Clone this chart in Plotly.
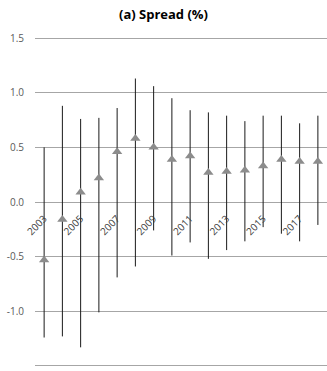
import plotly.graph_objects as go

years = [2003, 2004, 2005, 2006, 2007, 2008, 2009, 2010, 2011, 2012, 2013, 2014, 2015, 2016, 2017, 2018]
spread = [-0.53, -0.16, 0.09, 0.22, 0.46, 0.58, 0.50, 0.39, 0.42, 0.27, 0.28, 0.29, 0.33, 0.39, 0.37, 0.37]
upper = [0.50, 0.88, 0.76, 0.77, 0.86, 1.13, 1.06, 0.95, 0.84, 0.82, 0.79, 0.74, 0.79, 0.79, 0.72, 0.79]
lower = [-1.24, -1.23, -1.33, -1.01, -0.69, -0.59, -0.26, -0.49, -0.37, -0.52, -0.44, -0.36, -0.23, -0.29, -0.36, -0.21]
tick_years = [2003, 2005, 2007, 2009, 2011, 2013, 2015, 2017]
y_ticks = [-1.5, -1.0, -0.5, 0.0, 0.5, 1.0, 1.5]

err_plus = [u - s for u, s in zip(upper, spread)]
err_minus = [s - l for s, l in zip(spread, lower)]

fig = go.Figure()
fig.add_trace(go.Scatter(
    x=years, y=spread, mode="markers",
    marker=dict(symbol="triangle-up", size=9, color="#8C8C8C"),
    error_y=dict(type="data", symmetric=False, array=err_plus, arrayminus=err_minus,
                 color="#1a1a1a", thickness=1, width=0),
    showlegend=False, cliponaxis=False, hoverinfo="skip",
))

fig.update_layout(
    width=327, height=371,
    margin=dict(l=35, r=0, t=37, b=4, autoexpand=False),
    paper_bgcolor="white", plot_bgcolor="white",
    title=dict(text="<b>(a) Spread (%)</b>", x=0.5, xanchor="center", y=0.96, yanchor="middle",
               font=dict(family="Open Sans, sans-serif", size=13, color="#000")),
    font=dict(family="Open Sans, sans-serif", size=10, color="#595959"),
    xaxis=dict(range=[2002.5, 2018.5], tickmode="array", tickvals=tick_years,
               ticktext=[str(t) for t in tick_years], tickangle=-45,
               showgrid=False, zeroline=False, showline=False, automargin=False,
               anchor="free", position=0.5, ticks="outside", ticklen=6, tickcolor="rgba(0,0,0,0)",
               tickfont=dict(size=10, color="#404040")),
    yaxis=dict(range=[-1.51, 1.51], tickmode="array", tickvals=y_ticks,
               ticktext=[f"{v:.1f}" for v in y_ticks], automargin=False,
               showgrid=True, gridcolor="#A6A6A6", gridwidth=1,
               zeroline=True, zerolinecolor="#A6A6A6", zerolinewidth=1,
               showline=False, ticks="", ticklabelstandoff=10,
               tickfont=dict(size=10, color="#595959")),
)

fig.write_html("out.html", config={"displayModeBar": False, "staticPlot": True},
               post_script="document.body.style.margin='0';document.body.style.overflow='hidden';")
